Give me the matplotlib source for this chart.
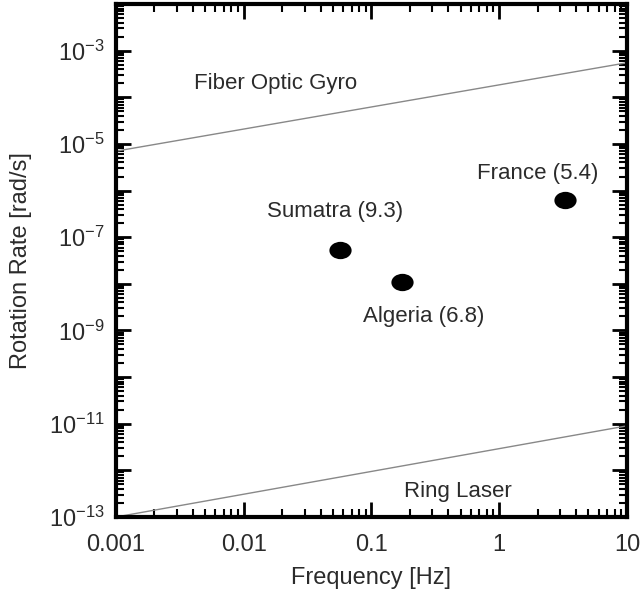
import math
import matplotlib
matplotlib.use('Agg')
import matplotlib.pyplot as plt
from matplotlib.path import Path
from matplotlib.ticker import LogLocator, FixedLocator, FuncFormatter, NullFormatter

plt.rcParams['font.family'] = ['Liberation Sans', 'DejaVu Sans']
plt.rcParams['axes.unicode_minus'] = False
plt.rcParams['mathtext.fontset'] = 'custom'
plt.rcParams['mathtext.rm'] = 'Liberation Sans'

# ---------- Data ----------
line_freq = [0.001, 10]
fiber_gyro = [7e-6, 5.5e-4]
ring_laser = [1e-13, 9e-12]

quake_names = ['Sumatra (9.3)', 'Algeria (6.8)', 'France (5.4)']
quake_freq = [0.0566, 0.172, 3.27]
quake_rate = [5.4e-8, 1.1e-8, 6.2e-7]
quake_label_pos = [(0.0518, 3.5e-7), (0.258, 1.95e-9), (2.0, 2.3e-6)]

text_color = '#2b2b2b'

# slightly flattened dot, like the original
circ = Path.unit_circle()
ellipse = Path(circ.vertices * [1.0, 0.78], circ.codes)

fig = plt.figure(figsize=(6.43, 5.92), dpi=100)
ax = fig.add_axes([0.1804, 0.1267, 0.7946, 0.8665])

ax.plot(line_freq, fiber_gyro, color='#888888', lw=1.0)
ax.plot(line_freq, ring_laser, color='#888888', lw=1.0)
ax.plot(quake_freq, quake_rate, marker=ellipse, color='black', ms=16, mew=0, linestyle='none')

ax.set_xscale('log')
ax.set_yscale('log')
ax.set_xlim(0.001, 10)
ax.set_ylim(1e-13, 1e-2)

ax.text(0.0176, 2.0e-4, 'Fiber Optic Gyro', ha='center', va='center', fontsize=16, color=text_color)
ax.text(0.475, 3.6e-13, 'Ring Laser', ha='center', va='center', fontsize=16, color=text_color)
for name, (lx, ly) in zip(quake_names, quake_label_pos):
    ax.text(lx, ly, name, ha='center', va='center', fontsize=16, color=text_color)

# ---------- Ticks ----------
xlabels = {0.001: '0.001', 0.01: '0.01', 0.1: '0.1', 1: '1', 10: '10'}
ax.xaxis.set_major_locator(FixedLocator(list(xlabels.keys())))
ax.xaxis.set_major_formatter(FuncFormatter(lambda v, p: xlabels.get(round(v, 3), '')))
ax.xaxis.set_minor_locator(LogLocator(base=10, subs=range(2, 10), numticks=20))
ax.xaxis.set_minor_formatter(NullFormatter())

ydec = [10.0 ** e for e in range(-13, -1)]
ax.yaxis.set_major_locator(FixedLocator(ydec))

def yfmt(v, p):
    e = int(round(math.log10(v)))
    if e % 2 == 0:
        return ''
    return r'$\mathregular{10^{%d}}$' % e

ax.yaxis.set_major_formatter(FuncFormatter(yfmt))
ax.yaxis.set_minor_locator(LogLocator(base=10, subs=range(2, 10), numticks=30))
ax.yaxis.set_minor_formatter(NullFormatter())

ax.tick_params(which='both', direction='in', top=True, right=True, colors='black', labelcolor=text_color)
ax.tick_params(which='major', length=11, width=2, labelsize=17)
ax.tick_params(axis='x', which='major', pad=12)
ax.tick_params(axis='y', which='major', pad=8)
ax.tick_params(which='minor', length=6, width=1.5)
for s in ax.spines.values():
    s.set_linewidth(3)

ax.set_xlabel('Frequency [Hz]', fontsize=17, color=text_color, labelpad=8)
ax.set_ylabel('Rotation Rate [rad/s]', fontsize=17, color=text_color, labelpad=12)

fig.savefig('out.png', dpi=100)
